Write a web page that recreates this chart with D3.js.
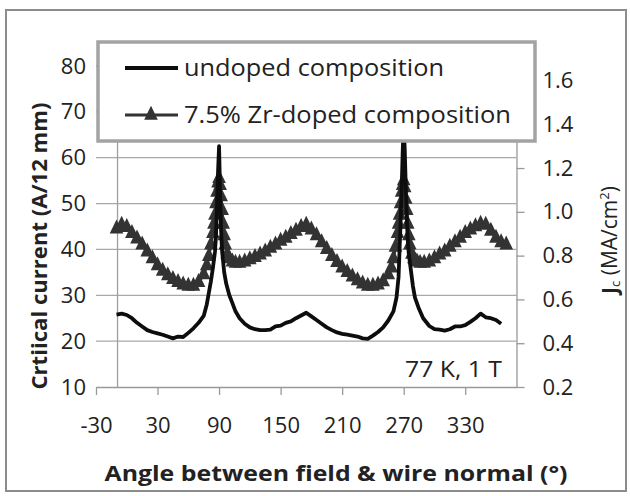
<!DOCTYPE html>
<html>
<head>
<meta charset="utf-8">
<script src="https://cdn.jsdelivr.net/npm/d3@7"></script>
<style>
  body { margin: 0; background: #fff; }
  text { font-family: "Open Sans", sans-serif; fill: #222; }
</style>
</head>
<body>
<div id="chart"></div>
<script>
// undoped composition (black line), critical current in A per 12 mm
const undopedAngle = [
  -10, -5, 0, 5, 10, 15, 20, 25, 30, 35,
  40, 45, 50, 55, 60, 65, 70, 75, 78, 80,
  82, 84, 86, 87, 88, 89, 90, 91, 92, 93,
  95, 97, 100, 103, 106, 110, 115, 120, 125, 130,
  135, 140, 145, 150, 155, 160, 165, 170, 175, 180,
  185, 190, 195, 200, 205, 210, 215, 220, 225, 230,
  235, 240, 245, 250, 255, 260, 263, 265, 266, 267,
  268, 269, 270, 271, 272, 273, 274, 275, 277, 279,
  281, 285, 289, 295, 300, 305, 310, 315, 320, 325,
  330, 335, 340, 345, 350, 355, 360, 365
];
const undopedIc = [
  25.8, 26.0, 25.7, 25.0, 24.0, 23.2, 22.4, 22.0, 21.7, 21.4,
  21.0, 20.6, 21.0, 20.9, 21.8, 22.8, 24.0, 25.5, 28.0, 30.5,
  33.0, 36.0, 39.5, 43.0, 50.0, 57.0, 62.5, 52.0, 44.0, 39.5,
  35.0, 32.5, 30.0, 28.3, 26.5, 25.0, 23.8, 23.0, 22.6, 22.4,
  22.4, 22.5, 23.2, 23.4, 24.0, 24.3, 25.0, 25.6, 26.2, 25.4,
  24.6, 23.8, 23.0, 22.4, 21.9, 21.6, 21.4, 21.2, 21.0, 20.6,
  20.5, 21.2, 22.0, 23.0, 24.5, 26.5, 29.5, 34.0, 40.0, 46.0,
  53.0, 61.0, 67.5, 62.0, 54.0, 47.0, 42.0, 39.0, 35.5, 32.0,
  29.5, 27.0, 25.0, 23.3, 22.6, 22.5, 22.3, 22.6, 23.2, 23.2,
  23.5, 24.2, 25.0, 26.0, 25.2, 25.0, 24.6, 23.8
];

// 7.5% Zr-doped composition (triangles)
const zrAngle = [
  -10, -5, 0, 5, 10, 15, 20, 25, 30, 35,
  40, 45, 50, 55, 60, 65, 70, 75, 78, 80,
  82, 84, 85, 86, 87, 88, 89, 90, 91, 92,
  93, 94, 95, 96, 98, 100, 103, 106, 110, 115,
  120, 125, 130, 135, 140, 145, 150, 155, 160, 165,
  170, 175, 180, 185, 190, 195, 200, 205, 210, 215,
  220, 225, 230, 235, 240, 245, 250, 255, 258, 260,
  262, 264, 265, 266, 267, 268, 269, 270, 271, 272,
  273, 274, 275, 276, 278, 280, 283, 286, 290, 295,
  300, 305, 310, 315, 320, 325, 330, 335, 340, 345,
  350, 355, 360, 365, 370
];
const zrIc = [
  44.5, 45.3, 44.8, 43.5, 42.3, 41.0, 39.5, 38.0, 36.5, 35.3,
  34.3, 33.5, 32.8, 32.3, 32.0, 32.0, 32.8, 34.5, 36.5, 38.5,
  41.0, 43.5, 45.5, 47.5, 50.0, 52.5, 54.5, 55.5, 54.0, 51.5,
  48.5, 45.5, 43.0, 41.0, 39.0, 38.0, 37.3, 37.0, 37.0, 37.3,
  37.8, 38.3, 38.8, 39.5, 40.3, 41.0, 41.8, 42.5, 43.3, 44.0,
  44.8, 45.3, 44.3, 43.0, 41.5, 40.0, 38.5, 37.2, 36.0, 35.0,
  34.0, 33.2, 32.5, 32.0, 32.0, 32.3, 33.0, 34.5, 36.0, 38.0,
  40.5, 43.5, 45.5, 47.5, 50.0, 52.5, 54.0, 55.0, 53.5, 51.0,
  48.5, 45.5, 43.0, 41.0, 39.0, 38.0, 37.3, 37.0, 37.0, 37.3,
  38.0, 38.8, 39.5, 40.5, 41.5, 42.5, 43.5, 44.3, 45.0, 45.5,
  45.3, 44.0, 42.5, 41.5, 41.0
];

const xTicks = [-30, 30, 90, 150, 210, 270, 330];
const leftTicks = [10, 20, 30, 40, 50, 60, 70, 80];
const rightTicks = [0.2, 0.4, 0.6, 0.8, 1.0, 1.2, 1.4, 1.6];
const seriesNames = ["undoped composition", "7.5% Zr-doped composition"];

const width = 630, height = 496;
const plot = { left: 96, right: 516.5, top: 66, bottom: 387 };

const svg = d3.select("#chart").append("svg")
  .attr("width", width)
  .attr("height", height);

svg.append("rect")
  .attr("width", width).attr("height", height)
  .attr("fill", "#fff");

const x = d3.scaleLinear().domain([-30, 380]).range([plot.left, plot.right]);
const yL = d3.scaleLinear().domain([10, 80]).range([plot.bottom, plot.top]);
const yR = d3.scaleLinear().domain([0.2, 1.666]).range([plot.bottom, plot.top]);

// horizontal gridlines
svg.append("g")
  .selectAll("line")
  .data(leftTicks.slice(1))
  .enter().append("line")
  .attr("x1", plot.left).attr("x2", plot.right)
  .attr("y1", d => yL(d)).attr("y2", d => yL(d))
  .attr("stroke", "#a8a8a8").attr("stroke-width", 1.3);

// primary vertical axis crosses at -9 deg
svg.append("line")
  .attr("x1", x(-9)).attr("x2", x(-9))
  .attr("y1", plot.top).attr("y2", plot.bottom)
  .attr("stroke", "#a0a0a0").attr("stroke-width", 1.3);

// bottom axis
const xAxis = svg.append("g")
  .attr("transform", `translate(0,${plot.bottom})`)
  .call(d3.axisBottom(x).tickValues(xTicks).tickFormat(d => String(d))
    .tickSize(8).tickSizeOuter(0).tickPadding(22));
xAxis.select(".domain").attr("stroke", "#999").attr("stroke-width", 1.3);
xAxis.selectAll(".tick line").attr("stroke", "#999").attr("stroke-width", 1.3);
xAxis.selectAll("text").attr("font-size", 22).attr("fill", "#222");

// left axis (labels only)
const yAxisL = svg.append("g")
  .attr("transform", `translate(${plot.left},0)`)
  .call(d3.axisLeft(yL).tickValues(leftTicks).tickSize(0).tickPadding(10));
yAxisL.select(".domain").remove();
yAxisL.selectAll("text").attr("font-size", 22).attr("fill", "#222");

// right axis
const yAxisR = svg.append("g")
  .attr("transform", `translate(${plot.right},0)`)
  .call(d3.axisRight(yR).tickValues(rightTicks).tickFormat(d3.format(".1f"))
    .tickSize(8).tickSizeOuter(0).tickPadding(18));
yAxisR.select(".domain").attr("stroke", "#999").attr("stroke-width", 1.3);
yAxisR.selectAll(".tick line").attr("stroke", "#999").attr("stroke-width", 1.3);
yAxisR.selectAll("text").attr("font-size", 22).attr("fill", "#222");

const undoped = d3.zip(undopedAngle, undopedIc);
const doped = d3.zip(zrAngle, zrIc);

const line = d3.line().x(d => x(d[0])).y(d => yL(d[1]));

// triangle marker, a bit taller than wide like the Excel one
const triangle = {
  draw(context, size) {
    const s = Math.sqrt(size) / 10;
    const w = 6.8 * s, h = 14 * s;
    context.moveTo(0, -h * 2 / 3);
    context.lineTo(w, h / 3);
    context.lineTo(-w, h / 3);
    context.closePath();
  }
};
const tri = d3.symbol().type(triangle).size(100);

// Zr-doped line + triangles
svg.append("path")
  .attr("d", line(doped))
  .attr("fill", "none")
  .attr("stroke", "#333")
  .attr("stroke-width", 3);

svg.append("g")
  .selectAll("path")
  .data(doped)
  .enter().append("path")
  .attr("d", tri)
  .attr("transform", d => `translate(${x(d[0])},${yL(d[1])})`)
  .attr("fill", "#333");

// undoped line
svg.append("path")
  .attr("d", line(undoped))
  .attr("fill", "none")
  .attr("stroke", "#0d0d0d")
  .attr("stroke-width", 3.8)
  .attr("stroke-linejoin", "round");

// condition note
svg.append("text")
  .attr("x", 502).attr("y", 370).attr("dy", "0.35em")
  .attr("text-anchor", "end")
  .attr("font-size", 21)
  .attr("textLength", 97).attr("lengthAdjust", "spacingAndGlyphs")
  .text("77 K, 1 T");

// legend
const legend = svg.append("g");
legend.append("rect")
  .attr("x", 98).attr("y", 42).attr("width", 437).attr("height", 99)
  .attr("fill", "#fff")
  .attr("stroke", "#a3a3a3").attr("stroke-width", 3.5);

legend.append("line")
  .attr("x1", 125).attr("x2", 178).attr("y1", 68).attr("y2", 68)
  .attr("stroke", "#0d0d0d").attr("stroke-width", 3.8);
legend.append("line")
  .attr("x1", 125).attr("x2", 178).attr("y1", 115).attr("y2", 115)
  .attr("stroke", "#333").attr("stroke-width", 3);
legend.append("path")
  .attr("d", tri)
  .attr("transform", "translate(151,115)")
  .attr("fill", "#333");

const legendWidths = [260, 327];
legend.selectAll("text")
  .data(seriesNames)
  .enter().append("text")
  .attr("x", 184)
  .attr("y", (d, i) => 68 + i * 47)
  .attr("dy", "0.35em")
  .attr("font-size", 24)
  .attr("textLength", (d, i) => legendWidths[i])
  .attr("lengthAdjust", "spacingAndGlyphs")
  .text(d => d);

// axis titles
svg.append("text")
  .attr("x", 336).attr("y", 474).attr("dy", "0.35em")
  .attr("text-anchor", "middle")
  .attr("font-size", 21).attr("font-weight", "bold")
  .attr("textLength", 463).attr("lengthAdjust", "spacingAndGlyphs")
  .text("Angle between field & wire normal (°)");

svg.append("text")
  .attr("transform", "translate(40,246) rotate(-90)")
  .attr("dy", "0.35em")
  .attr("text-anchor", "middle")
  .attr("font-size", 21).attr("font-weight", "bold")
  .attr("textLength", 287).attr("lengthAdjust", "spacingAndGlyphs")
  .text("Crtiical current (A/12 mm)");

const rt = svg.append("text")
  .attr("transform", "translate(617,240) rotate(-90)")
  .attr("text-anchor", "middle")
  .attr("font-size", 21);
rt.append("tspan").attr("font-weight", "bold").text("J");
rt.append("tspan").attr("font-size", 13).attr("dy", 3).text("c");
rt.append("tspan").attr("dy", -3).text(" (MA/cm");
rt.append("tspan").attr("font-size", 13).attr("dy", -8).text("2");
rt.append("tspan").attr("dy", 8).text(")");

// chart border
svg.append("rect")
  .attr("x", 6).attr("y", 10).attr("width", 620).attr("height", 481)
  .attr("fill", "none")
  .attr("stroke", "#8c8c8c").attr("stroke-width", 2);
</script>
</body>
</html>
